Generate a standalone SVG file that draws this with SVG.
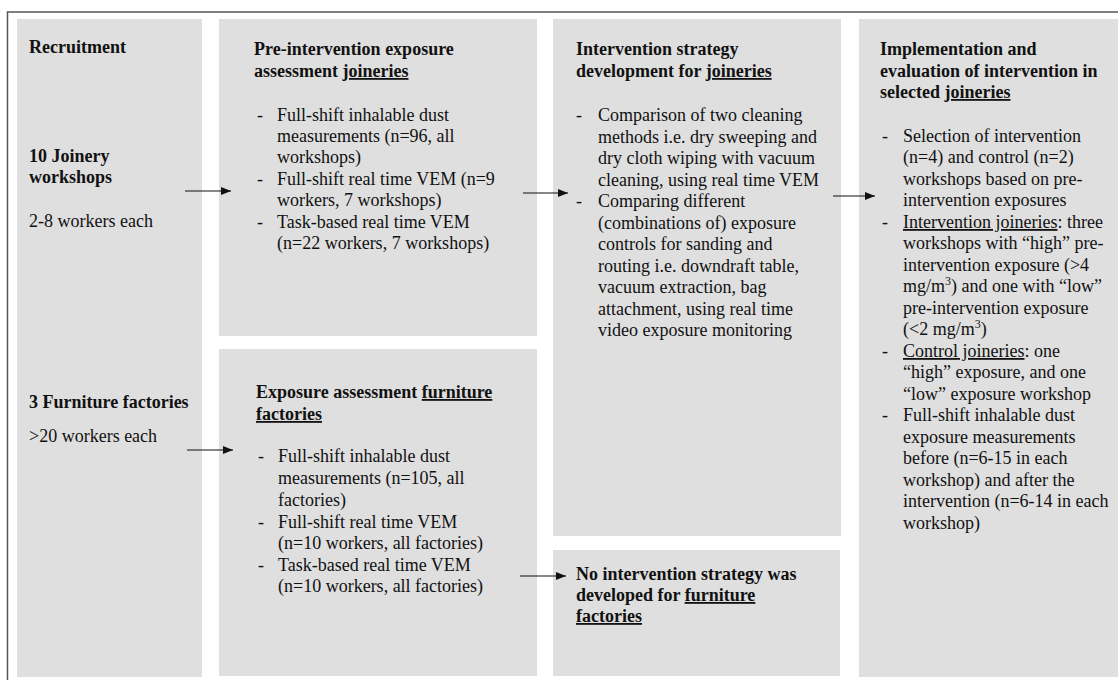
<svg xmlns="http://www.w3.org/2000/svg" width="1118" height="680" viewBox="0 0 1118 680" font-family="'Liberation Serif', 'Times New Roman', Times, 'DejaVu Serif', serif">
<defs>
<style>
text{font-family:'Liberation Serif','Times New Roman',Times,'DejaVu Serif',serif;font-size:18px;fill:#111;}
.b{font-weight:bold;}
.u{text-decoration:underline;}
.box{fill:#dfdfdf;}
.frame{stroke:#555;stroke-width:1.5;fill:none;}
.conn{stroke:#111;stroke-width:1.2;fill:none;}
</style>
<marker id="ah" viewBox="0 0 10 8" refX="10" refY="4" markerWidth="10" markerHeight="8" markerUnits="userSpaceOnUse" orient="auto">
<path d="M0,0 L10,4 L0,8 Z" fill="#111"/>
</marker>
</defs>
<rect width="1118" height="680" fill="#fff"/>
<path class="frame" d="M1118,12 L7.5,12 L7.5,680"/>

<g id="recruitment">
<rect class="box" x="17" y="19" width="185" height="658"/>
<text class="b" x="29" y="53">Recruitment</text>
<text class="b" x="29" y="162">10 Joinery</text>
<text class="b" x="29" y="183">workshops</text>
<text x="29" y="227">2-8 workers each</text>
<text class="b" x="29" y="408">3 Furniture factories</text>
<text x="29" y="442">&gt;20 workers each</text>
</g>

<g id="pre-intervention">
<rect class="box" x="219" y="19" width="318" height="317"/>
<text class="b" x="254" y="55">Pre-intervention exposure</text>
<text class="b" x="254" y="77">assessment <tspan class="u">joineries</tspan></text>
<text x="257" y="121">-</text>
<text x="277" y="121">Full-shift inhalable dust</text>
<text x="277" y="142">measurements (n=96, all</text>
<text x="277" y="163">workshops)</text>
<text x="257" y="185">-</text>
<text x="277" y="185">Full-shift real time VEM (n=9</text>
<text x="277" y="206">workers, 7 workshops)</text>
<text x="257" y="228">-</text>
<text x="277" y="228">Task-based real time VEM</text>
<text x="277" y="249">(n=22 workers, 7 workshops)</text>
</g>

<g id="furniture-assessment">
<rect class="box" x="219" y="349" width="318" height="327"/>
<text class="b" x="256" y="398">Exposure assessment <tspan class="u">furniture</tspan></text>
<text class="b u" x="256" y="420">factories</text>
<text x="258" y="462">-</text>
<text x="278" y="462">Full-shift inhalable dust</text>
<text x="278" y="484">measurements (n=105, all</text>
<text x="278" y="506">factories)</text>
<text x="258" y="528">-</text>
<text x="278" y="528">Full-shift real time VEM</text>
<text x="278" y="549">(n=10 workers, all factories)</text>
<text x="258" y="571">-</text>
<text x="278" y="571">Task-based real time VEM</text>
<text x="278" y="592">(n=10 workers, all factories)</text>
</g>

<g id="strategy">
<rect class="box" x="553" y="19" width="288" height="517"/>
<text class="b" x="576" y="55">Intervention strategy</text>
<text class="b" x="576" y="77">development for <tspan class="u">joineries</tspan></text>
<text x="576" y="121">-</text>
<text x="598" y="121">Comparison of two cleaning</text>
<text x="598" y="143">methods i.e. dry sweeping and</text>
<text x="598" y="164">dry cloth wiping with vacuum</text>
<text x="598" y="186">cleaning, using real time VEM</text>
<text x="576" y="207">-</text>
<text x="598" y="207">Comparing different</text>
<text x="598" y="229">(combinations of) exposure</text>
<text x="598" y="250">controls for sanding and</text>
<text x="598" y="272">routing i.e. downdraft table,</text>
<text x="598" y="293">vacuum extraction, bag</text>
<text x="598" y="315">attachment, using real time</text>
<text x="598" y="336">video exposure monitoring</text>
</g>

<g id="no-strategy">
<rect class="box" x="553" y="550" width="287" height="126"/>
<text class="b" x="576" y="580">No intervention strategy was</text>
<text class="b" x="576" y="601">developed for <tspan class="u">furniture</tspan></text>
<text class="b u" x="576" y="622">factories</text>
</g>

<g id="implementation">
<rect class="box" x="859" y="19" width="259" height="658"/>
<text class="b" x="880" y="55">Implementation and</text>
<text class="b" x="880" y="77">evaluation of intervention in</text>
<text class="b" x="880" y="98">selected <tspan class="u">joineries</tspan></text>
<text x="882" y="142">-</text>
<text x="903" y="142">Selection of intervention</text>
<text x="903" y="163">(n=4) and control (n=2)</text>
<text x="903" y="185">workshops based on pre-</text>
<text x="903" y="206">intervention exposures</text>
<text x="882" y="228">-</text>
<text x="903" y="228"><tspan class="u">Intervention joineries</tspan>: three</text>
<text x="903" y="249">workshops with “high” pre-</text>
<text x="903" y="271">intervention exposure (&gt;4</text>
<text x="903" y="292">mg/m<tspan font-size="12" dy="-7">3</tspan><tspan dy="7">) and one with “low”</tspan></text>
<text x="903" y="314">pre-intervention exposure</text>
<text x="903" y="335">(&lt;2 mg/m<tspan font-size="12" dy="-7">3</tspan><tspan dy="7">)</tspan></text>
<text x="882" y="357">-</text>
<text x="903" y="357"><tspan class="u">Control joineries</tspan>: one</text>
<text x="903" y="378">“high” exposure, and one</text>
<text x="903" y="400">“low” exposure workshop</text>
<text x="882" y="421">-</text>
<text x="903" y="421">Full-shift inhalable dust</text>
<text x="903" y="443">exposure measurements</text>
<text x="903" y="464">before (n=6-15 in each</text>
<text x="903" y="486">workshop) and after the</text>
<text x="903" y="507">intervention (n=6-14 in each</text>
<text x="903" y="529">workshop)</text>
</g>

<g id="connectors">
<line class="conn" x1="185" y1="191" x2="231" y2="191" marker-end="url(#ah)"/>
<line class="conn" x1="187" y1="450" x2="233" y2="450" marker-end="url(#ah)"/>
<line class="conn" x1="523" y1="193" x2="568" y2="193" marker-end="url(#ah)"/>
<line class="conn" x1="833" y1="196" x2="875" y2="196" marker-end="url(#ah)"/>
<line class="conn" x1="520" y1="576" x2="566" y2="576" marker-end="url(#ah)"/>
</g>
</svg>
